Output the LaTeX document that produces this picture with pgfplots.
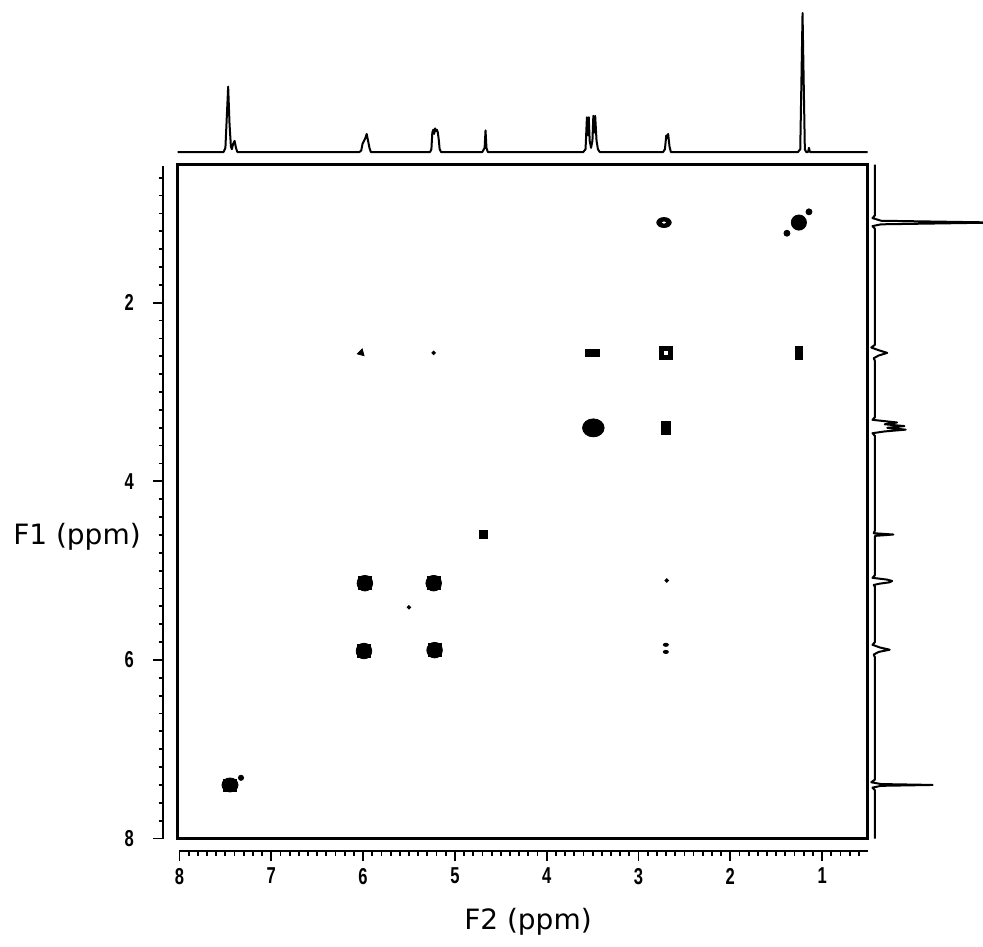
\documentclass[border=0pt]{standalone}
\usepackage{fontspec}
\setmainfont{DejaVu Sans}
\newfontfamily\tickfont[FakeStretch=0.72]{Liberation Sans}
\usepackage{pgfplots}
\pgfplotsset{compat=1.18}
\begin{document}
\begin{tikzpicture}
\useasboundingbox (0,0) rectangle (491.5pt,473pt);
% ---------------- main 2D (COSY) box ----------------
\begin{axis}[at={(88.85pt,53.75pt)}, anchor=south west, scale only axis,
  width=345pt, height=337pt,
  xmin=0.5, xmax=8.02, ymin=0.45, ymax=8.0, x dir=reverse, y dir=reverse,
  xtick=\empty, ytick=\empty, axis line style={line width=1.3pt}, clip=false]
% strong off-diagonal / diagonal blobs (rounded squares = square + circle)
\addplot[only marks, mark=square*, mark size=3.2pt, mark options={fill=black}]
  coordinates {(5.98,5.14) (5.23,5.14) (5.99,5.90) (5.22,5.89)};
\addplot[only marks, mark=*, mark size=3.9pt, mark options={fill=black}]
  coordinates {(5.98,5.14) (5.23,5.14) (5.99,5.90) (5.22,5.89)};
% diagonal 3.5 ppm
\addplot[only marks, mark=*, mark size=4.5pt, mark options={xscale=1.2, fill=black}]
  coordinates {(3.49,3.40)};
% diagonal 1.2 ppm with satellites
\addplot[only marks, mark=*, mark size=3.8pt, mark options={fill=black}]
  coordinates {(1.25,1.10)};
\addplot[only marks, mark=*, mark size=1.5pt, mark options={fill=black}]
  coordinates {(1.14,0.98) (1.38,1.22)};
% diagonal 7.4 ppm
\addplot[only marks, mark=square*, mark size=3.0pt, mark options={xscale=1.15, fill=black}]
  coordinates {(7.45,7.40)};
\addplot[only marks, mark=*, mark size=3.5pt, mark options={xscale=1.15, fill=black}]
  coordinates {(7.45,7.40)};
\addplot[only marks, mark=*, mark size=1.3pt, mark options={fill=black}]
  coordinates {(7.33,7.32)};
% ring cross peak (filled ellipse with small hole)
\addplot[only marks, mark=*, mark size=2.5pt, mark options={xscale=1.45, fill=black}]
  coordinates {(2.72,1.10)};
\addplot[only marks, mark=*, mark size=0.45pt, mark options={xscale=1.8, fill=white, draw=white, line width=0.2pt}]
  coordinates {(2.72,1.10)};
% square ring
\addplot[only marks, mark=square*, mark size=3.2pt, mark options={fill=black}]
  coordinates {(2.70,2.56)};
\addplot[only marks, mark=square*, mark size=0.8pt, mark options={fill=white, draw=white, line width=0.2pt}]
  coordinates {(2.70,2.56)};
% medium marks
\addplot[only marks, mark=square*, mark size=2.3pt, mark options={yscale=1.35, fill=black}]
  coordinates {(2.70,3.40)};
\addplot[only marks, mark=square*, mark size=1.6pt, mark options={yscale=2, fill=black}]
  coordinates {(1.25,2.56)};
\addplot[only marks, mark=square*, mark size=1.9pt, mark options={xscale=1.8, fill=black}]
  coordinates {(3.50,2.56)};
\addplot[only marks, mark=square*, mark size=2pt, mark options={fill=black}]
  coordinates {(4.69,4.59)};
\addplot[only marks, mark=triangle*, mark size=2pt, mark options={rotate=-135, fill=black}]
  coordinates {(6.02,2.56)};
% small dots
\addplot[only marks, mark=*, mark size=0.9pt, mark options={fill=black}]
  coordinates {(5.23,2.56) (5.50,5.41) (2.69,5.11)};
\addplot[only marks, mark=*, mark size=0.8pt, mark options={xscale=1.6, fill=black}]
  coordinates {(2.70,5.83) (2.70,5.91)};
\end{axis}
% ---------------- F2 ruler ----------------
\begin{axis}[at={(89.75pt,47.5pt)}, anchor=south west, scale only axis,
  width=344.25pt, height=1pt, xmin=0.5, xmax=8.0, ymin=0, ymax=1, x dir=reverse,
  axis x line*=bottom, axis y line=none,
  xtick={1,2,3,4,5,6,7,8}, minor xtick={0.6,0.7,...,7.95},
  tick align=outside, major tick length=5pt, minor tick length=2.6pt,
  axis line style={line width=1.1pt}, tick style={line width=0.9pt, black},
  /pgf/number format/assume math mode=true,
  ticklabel style={font=\tickfont\bfseries\fontsize{11.5}{13}\selectfont}]
\end{axis}
% ---------------- F1 ruler ----------------
\begin{axis}[at={(81.5pt,53.75pt)}, anchor=south west, scale only axis,
  width=1pt, height=336.2pt, ymin=0.47, ymax=8.0, xmin=0, xmax=1, y dir=reverse,
  axis y line*=left, axis x line=none,
  ytick={2,4,6,8}, minor ytick={0.6,0.8,...,7.9},
  tick align=outside, major tick length=5pt, minor tick length=2.2pt,
  axis line style={line width=1.1pt}, tick style={line width=0.9pt, black},
  /pgf/number format/assume math mode=true,
  yticklabel style={xshift=-6pt},
  ticklabel style={font=\tickfont\bfseries\fontsize{11.5}{13}\selectfont}]
\end{axis}
% ---------------- top 1D projection ----------------
\begin{axis}[at={(88.85pt,394.9pt)}, anchor=south west, scale only axis,
  width=345pt, height=73pt, xmin=0.5, xmax=8.02, ymin=-3, ymax=102,
  x dir=reverse, hide axis, clip=false]
\addplot[line width=1pt, black, line join=round] coordinates {
 (8.02,0) (7.52,0) (7.50,3) (7.485,25) (7.47,47) (7.455,20) (7.44,4) (7.43,2)
 (7.415,6) (7.40,8) (7.385,3) (7.37,0)
 (6.04,0) (6.02,1) (6.005,6) (5.99,8) (5.975,10) (5.96,13) (5.945,8) (5.93,3) (5.915,0)
 (5.27,0) (5.255,2) (5.245,14) (5.235,16) (5.225,13) (5.215,17) (5.205,15)
 (5.195,16) (5.185,14) (5.175,9) (5.165,2) (5.15,0)
 (4.70,0) (4.675,3) (4.665,15.5) (4.655,3) (4.64,0)
 (3.60,0) (3.575,2) (3.56,25) (3.55,12) (3.54,25) (3.53,8) (3.515,3) (3.50,8)
 (3.49,26) (3.48,14) (3.47,26) (3.455,8) (3.44,2) (3.42,0)
 (2.73,0) (2.71,2) (2.695,12) (2.685,10) (2.675,13) (2.66,4) (2.645,0)
 (1.26,0) (1.235,2) (1.22,60) (1.21,100) (1.20,60) (1.185,2) (1.17,0)
 (1.15,0) (1.14,3) (1.13,0) (0.5,0)};
\end{axis}
% ---------------- right 1D projection ----------------
\begin{axis}[at={(435pt,53.75pt)}, anchor=south west, scale only axis,
  width=56.5pt, height=337pt, xmin=-4, xmax=88, ymin=0.45, ymax=8.0,
  y dir=reverse, hide axis]
\addplot[line width=1pt, black, line join=round] coordinates {
 (0,0.45) (0,1.02) (-2,1.05) (5,1.08) (100,1.10) (5,1.12) (-2,1.14) (0,1.17)
 (0,2.47) (-3,2.50) (3,2.53) (10,2.56) (3,2.59) (-1,2.62) (0,2.65)
 (0,3.28) (-2,3.31) (18,3.34) (8,3.36) (24,3.38) (10,3.40) (25,3.42) (8,3.44) (-2,3.46) (0,3.49)
 (0,4.55) (-1,4.58) (15,4.595) (0,4.61)
 (0,5.05) (-2,5.08) (10,5.10) (14,5.115) (12,5.13) (4,5.145) (-1,5.16) (0,5.18)
 (0,5.80) (-2,5.83) (4,5.86) (12,5.885) (3,5.91) (-1,5.94) (0,5.97)
 (0,7.34) (-3,7.37) (5,7.39) (47,7.40) (5,7.41) (-2,7.43) (0,7.46) (0,8.0)};
\end{axis}
% ---------------- axis titles ----------------
\node[font=\fontsize{14}{16}\selectfont] at (38.5pt,204.5pt) {F1 (ppm)};
\node[font=\fontsize{14}{16}\selectfont] at (264pt,12pt) {F2 (ppm)};
\end{tikzpicture}
\end{document}
